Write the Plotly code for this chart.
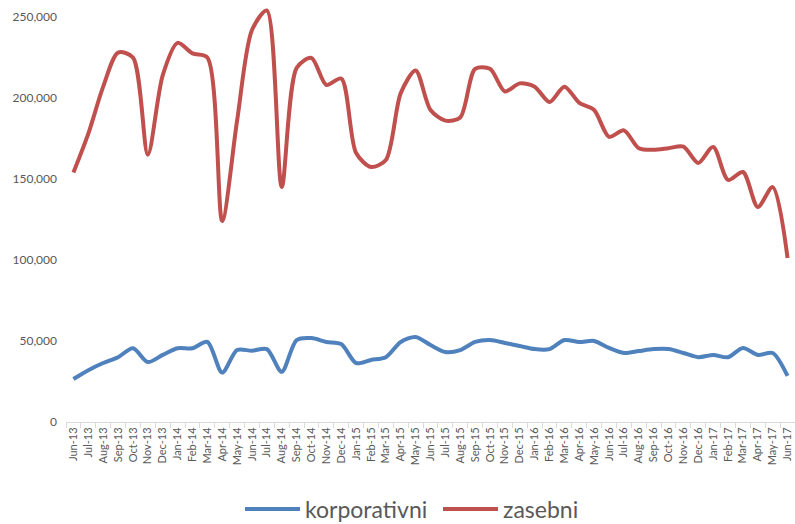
import plotly.graph_objects as go

months = ["Jun-13","Jul-13","Aug-13","Sep-13","Oct-13","Nov-13","Dec-13",
          "Jan-14","Feb-14","Mar-14","Apr-14","May-14","Jun-14","Jul-14","Aug-14","Sep-14","Oct-14","Nov-14","Dec-14",
          "Jan-15","Feb-15","Mar-15","Apr-15","May-15","Jun-15","Jul-15","Aug-15","Sep-15","Oct-15","Nov-15","Dec-15",
          "Jan-16","Feb-16","Mar-16","Apr-16","May-16","Jun-16","Jul-16","Aug-16","Sep-16","Oct-16","Nov-16","Dec-16",
          "Jan-17","Feb-17","Mar-17","Apr-17","May-17","Jun-17"]

korporativni = [26500, 32000, 36400, 40000, 45500, 37000, 41400,
                45500, 45500, 49400, 30500, 44400, 44000, 45000, 31000, 50600, 51800, 49400, 48100,
                36400, 38300, 40000, 49400, 52500, 47500, 43200, 44400, 49400, 50600, 48800, 46900,
                45000, 45000, 50600, 49400, 50000, 45700, 42600, 43800, 45000, 45000, 42600, 40000,
                41400, 40000, 45700, 41400, 42600, 28400]

zasebni = [154000, 178000, 207000, 228000, 225000, 165000, 214000,
           234000, 227500, 225000, 124000, 186000, 242000, 254000, 145000, 218500, 224700, 208000, 212000,
           166000, 157400, 161700, 203000, 217000, 192600, 186000, 188000, 218000, 218000, 204000, 209000,
           207000, 197500, 207000, 197000, 192600, 176000, 180000, 169000, 168000, 169000, 170000, 159900,
           169800, 149400, 154300, 132700, 145000, 101200]

y_ticks = [0, 50000, 100000, 150000, 200000, 250000]
y_tick_text = ["0", "50,000", "100,000", "150,000", "200,000", "250,000"]

fig = go.Figure()
fig.add_trace(go.Scatter(x=months, y=korporativni, name="korporativni", mode="lines",
                         line=dict(color="#4F81BD", width=4, shape="spline", smoothing=0.8)))
fig.add_trace(go.Scatter(x=months, y=zasebni, name="zasebni", mode="lines",
                         line=dict(color="#C0504D", width=4, shape="spline", smoothing=0.8)))

fig.update_layout(
    width=795, height=524,
    margin=dict(l=66, r=0, t=4, b=102),
    paper_bgcolor="white", plot_bgcolor="white",
    font=dict(family="Lato, Open Sans, sans-serif", color="#595959"),
    showlegend=True,
    legend=dict(orientation="h", xref="container", yref="container",
                x=240 / 795, xanchor="left", y=15 / 524, yanchor="middle",
                font=dict(size=23, color="#595959"), itemwidth=55,
                entrywidth=128, entrywidthmode="pixels"),
    xaxis=dict(type="category", range=[-0.5, len(months) - 0.5], tickangle=-90,
               tickfont=dict(size=11, color="#595959"), showgrid=False, automargin=False,
               showline=True, linecolor="#D9D9D9", linewidth=1,
               ticks="outside", tickson="boundaries", ticklen=5, tickcolor="#D9D9D9"),
    yaxis=dict(range=[0, 258000], tickvals=y_ticks, ticktext=y_tick_text, automargin=False,
               tickfont=dict(size=12, color="#595959"), showgrid=False, zeroline=False,
               showline=False, ticks="", ticklabelstandoff=8),
)

fig.write_html("out.html", config={"displayModeBar": False},
               post_script="document.body.style.margin='0';")
